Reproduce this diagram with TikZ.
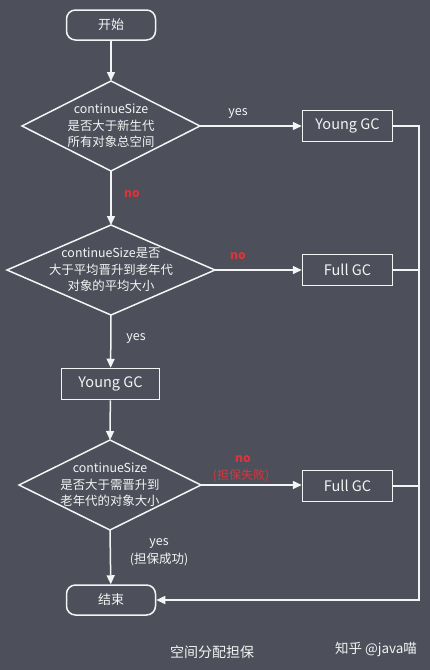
\documentclass[tikz,border=0pt]{standalone}
\usepackage{fontspec}
\setmainfont{Noto Sans CJK SC}
\usetikzlibrary{arrows.meta}
\definecolor{bg}{HTML}{4D505A}
\definecolor{noRed}{HTML}{D8353C}
\definecolor{fg}{HTML}{F4F4F4}
\newcommand{\mydecision}[6]{%
  \coordinate (#1) at (#2,#3);
  \path (#1) +(0,-#5) coordinate (#1t) +(#4,0) coordinate (#1r)
             +(0,#5) coordinate (#1b) +(-#4,0) coordinate (#1l);
  \draw[fg] (#1t) -- (#1r) -- (#1b) -- (#1l) -- cycle;
  \node[dtext] (#1txt) at (#1) {#6};
}
\begin{document}
\begin{tikzpicture}[x=1pt,y=-1pt, line width=1.5pt,
  term/.style={draw=fg, text=fg, rounded corners=9pt, minimum width=89pt, minimum height=30pt, inner sep=0pt, font=\fontsize{13}{15}\selectfont},
  proc/.style={draw=fg, text=fg, minimum height=31pt, inner sep=0pt, font=\fontsize{14.5}{16}\selectfont},
  dtext/.style={text=fg, align=center, inner sep=0pt, font=\fontsize{12.4}{16.5}\selectfont},
  arr/.style={draw=fg, -{Triangle[length=9pt,width=8pt]}},
  conn/.style={draw=fg},
  lbl/.style={text=fg, inner sep=0pt, align=center, font=\fontsize{12.5}{18}\selectfont},
  redlbl/.style={text=noRed, inner sep=0pt, align=center, font=\fontsize{12}{17}\selectfont\bfseries},
  redtxt/.style={text=noRed, inner sep=0pt, align=center, font=\fontsize{12}{17}\selectfont},
]
\fill[bg] (0,0) rectangle (430,670);
\useasboundingbox (0,0) rectangle (430,670);

\node[term] (start) at (111,25) {开始};
\mydecision{dA}{111}{126}{89}{45}{continueSize\\是否大于新生代\\所有对象总空间}
\node[proc, minimum width=90pt] (ygA) at (347.5,126) {Young GC};
\mydecision{dB}{111}{270}{104}{45}{continueSize是否\\大于平均晋升到老年代\\对象的平均大小}
\node[proc, minimum width=90pt] (fgA) at (347.5,270) {Full GC};
\node[proc, minimum width=98pt] (ygB) at (110.5,384) {Young GC};
\mydecision{dC}{110}{485}{91}{45}{continueSize\\是否大于需晋升到\\老年代的对象大小}
\node[proc, minimum width=90pt] (fgB) at (347.5,486) {Full GC};
\node[term] (stop) at (111,600) {结束};

\coordinate (rtop) at (419,126);
\coordinate (rbot) at (419,600);

\draw[arr] (start) -- (dAt);
\draw[arr] (dAr) -- (ygA);
\draw[arr] (dAb) -- (dBt);
\draw[arr] (dBr) -- (fgA);
\draw[arr] (dBb) -- (ygB);
\draw[arr] (ygB) -- (dCt);
\draw[arr] (dCr) -- (fgB.west |- dCr);
\draw[arr] (dCb) -- (stop);
\draw[arr] (ygA.east) -- (rtop) -- (rbot) -- (stop.east);
\draw[conn] (fgA.east) -- (fgA.east -| rtop);
\draw[conn] (fgB.east) -- (fgB.east -| rtop);

\node[lbl] (yesA) at (238,113) {yes};
\node[redlbl] (noA) at (132,194) {no};
\node[redlbl] (noB) at (238,256) {no};
\node[lbl] (yesB) at (136,338) {yes};
\node[redlbl] (noC) at (243,459) {no};
\node[redtxt] (failC) at (241,476) {(担保失败)};
\node[lbl] (yesC) at (159,552) {yes\\(担保成功)};

\node[text=fg, font=\fontsize{14}{16}\selectfont] (cap) at (212,652) {空间分配担保};
\node[text=fg, font=\fontsize{13.5}{16}\selectfont] (mark) at (376,649) {知乎 @java喵};
\end{tikzpicture}
\end{document}
